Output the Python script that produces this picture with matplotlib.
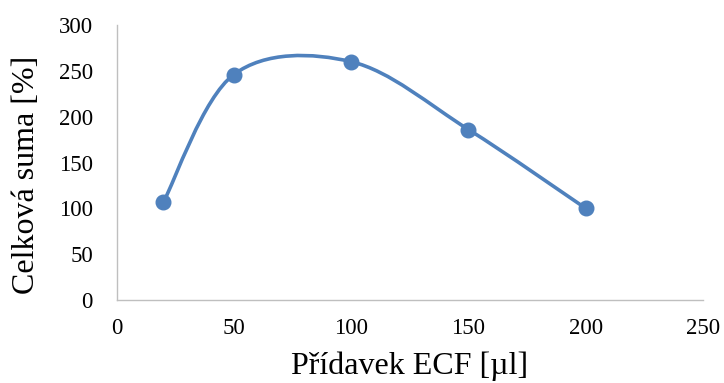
import numpy as np
import matplotlib
matplotlib.use("Agg")
import matplotlib.pyplot as plt
from matplotlib.path import Path
from matplotlib.patches import PathPatch

# ── Data ─────────────────────────────────────────────────────
pridavek = [20, 50, 100, 150, 200]       # µl ECF
celkova_suma = [107, 246, 260, 186, 100]  # %

x_ticks = [0, 50, 100, 150, 200, 250]
y_ticks = [0, 50, 100, 150, 200, 250, 300]

blue = "#4F81BD"
axis_grey = "#BFBFBF"

plt.rcParams["font.family"] = ["Liberation Serif", "DejaVu Serif"]


def smooth_path(xs, ys):
    """Catmull-Rom style Bezier path through the points (spreadsheet 'smoothed line')."""
    pts = np.column_stack([xs, ys]).astype(float)
    n = len(pts)
    verts = [pts[0]]
    codes = [Path.MOVETO]
    for i in range(n - 1):
        p_prev = pts[max(i - 1, 0)]
        p0 = pts[i]
        p1 = pts[i + 1]
        p_next = pts[min(i + 2, n - 1)]
        c1 = p0 + (p1 - p_prev) / 6.0
        c2 = p1 - (p_next - p0) / 6.0
        verts += [c1, c2, p1]
        codes += [Path.CURVE4] * 3
    return Path(verts, codes)


fig = plt.figure(figsize=(7.24, 3.83), dpi=100)
ax = fig.add_axes([0.161, 0.2167, 0.810, 0.718])

ax.add_patch(PathPatch(smooth_path(pridavek, celkova_suma), fill=False,
                       edgecolor=blue, lw=2.6, capstyle="round", zorder=3))
ax.plot(pridavek, celkova_suma, ls="none", marker="o", ms=10.5,
        color=blue, zorder=4)

ax.set_xlim(0, 250)
ax.set_ylim(0, 300)
ax.set_xticks(x_ticks)
ax.set_yticks(y_ticks)

for side in ("top", "right"):
    ax.spines[side].set_visible(False)
for side in ("left", "bottom"):
    ax.spines[side].set_color(axis_grey)
    ax.spines[side].set_linewidth(1.0)

ax.tick_params(axis="both", length=0, labelsize=16.5, colors="black")
ax.tick_params(axis="x", pad=13)
ax.tick_params(axis="y", pad=17)

ax.set_xlabel("Přídavek ECF [µl]", fontsize=23, labelpad=9)
ax.set_ylabel("Celková suma [%]", fontsize=23)
ax.yaxis.set_label_coords(-0.128, 0.455)

fig.savefig("out.png", dpi=100)
